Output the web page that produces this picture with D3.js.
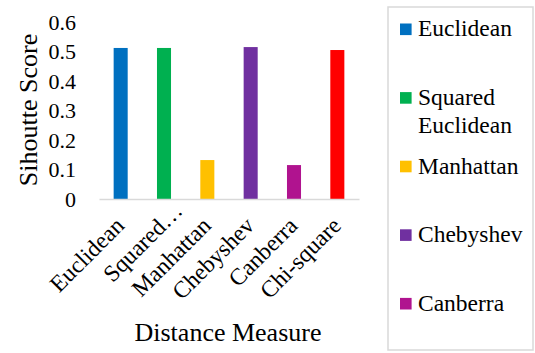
<!DOCTYPE html>
<html>
<head>
<meta charset="utf-8">
<script src="https://cdn.jsdelivr.net/npm/d3@7"></script>
<style>
  html, body { margin: 0; padding: 0; background: #fff; }
</style>
</head>
<body>
<svg id="chart" width="535" height="353" font-family="Liberation Serif"></svg>
<script>
// Silhouette score by distance measure
const categories = ["Euclidean", "Squared Euclidean", "Manhattan", "Chebyshev", "Canberra", "Chi-square"];
const axisLabels = ["Euclidean", "Squared…", "Manhattan", "Chebyshev", "Canberra", "Chi-square"];
const scores = [0.512, 0.512, 0.132, 0.515, 0.115, 0.505];
const colors = ["#0070C0", "#00B050", "#FFC000", "#7030A0", "#B0138F", "#FF0000"];
const yTicks = [0, 0.1, 0.2, 0.3, 0.4, 0.5, 0.6];
// legend shows the entries that fit inside its frame
const legendLines = [["Euclidean"], ["Squared", "Euclidean"], ["Manhattan"], ["Chebyshev"], ["Canberra"]];

const FONT = "Liberation Serif";
const svg = d3.select("#chart");
const tickFont = 22, catFont = 23.5, titleFont = 26, legendFont = 23.5;

const plot = { left: 99, right: 359, top: 22, bottom: 199 };

const x = d3.scaleBand().domain(categories).range([plot.left, plot.right]).paddingInner(0.676).paddingOuter(0.338);
const y = d3.scaleLinear().domain([0, 0.6]).range([plot.bottom, plot.top]);

// bars
svg.append("g").selectAll("rect").data(categories).join("rect")
  .attr("x", d => x(d))
  .attr("width", x.bandwidth())
  .attr("y", (d, i) => y(scores[i]))
  .attr("height", (d, i) => y(0) - y(scores[i]))
  .attr("fill", (d, i) => colors[i]);

// y axis
const yAxis = svg.append("g").attr("transform", `translate(${plot.left - 23},0)`)
  .call(d3.axisLeft(y).tickValues(yTicks).tickSize(0).tickPadding(0).tickFormat(d => d === 0 ? "0" : d3.format(".1f")(d)));
yAxis.attr("font-family", FONT).attr("font-size", tickFont);
yAxis.select(".domain").remove();
yAxis.selectAll("text").attr("font-family", FONT).attr("font-size", tickFont).attr("fill", "#000").attr("dy", "0.34em");

// x axis
const xAxis = svg.append("g").attr("transform", `translate(0,${plot.bottom})`)
  .call(d3.axisBottom(x).tickSize(0).tickFormat((d, i) => axisLabels[i]));
xAxis.attr("font-family", FONT).attr("font-size", catFont);
xAxis.select(".domain").attr("stroke", "#d9d9d9").attr("stroke-width", 1.5);
xAxis.selectAll("text")
  .attr("font-family", FONT).attr("font-size", catFont).attr("fill", "#000")
  .attr("text-anchor", "end")
  .attr("dy", null).attr("y", 0)
  // a truncated label keeps its ellipsis past the tick
  .attr("dx", (d, i) => axisLabels[i].endsWith("…") ? 21 : 0)
  .attr("transform", "translate(5,28) rotate(-45)");

// axis titles
svg.append("text")
  .attr("transform", "translate(37,110) rotate(-90)")
  .attr("text-anchor", "middle")
  .attr("font-family", FONT).attr("font-size", titleFont)
  .text("Sihoutte Score");

svg.append("text")
  .attr("x", 228).attr("y", 341)
  .attr("text-anchor", "middle")
  .attr("font-family", FONT).attr("font-size", titleFont)
  .text("Distance Measure");

// legend
const legendBox = { x: 388, y: 7, w: 145, h: 343 };
svg.append("rect")
  .attr("x", legendBox.x).attr("y", legendBox.y).attr("width", legendBox.w).attr("height", legendBox.h)
  .attr("fill", "none").attr("stroke", "#d9d9d9").attr("stroke-width", 1.5);

const ly = d3.scaleLinear().domain([0, 1]).range([29.3, 97.9]);
const items = svg.append("g")
  .selectAll("g").data(legendLines).join("g")
  .attr("transform", (d, i) => `translate(400,${ly(i)})`);
items.append("rect").attr("x", 0).attr("y", -5.8).attr("width", 11.6).attr("height", 11.6)
  .attr("fill", (d, i) => colors[i]);
items.append("text")
  .attr("x", 18).attr("y", 7)
  .attr("font-family", FONT).attr("font-size", legendFont)
  .selectAll("tspan").data(d => d).join("tspan")
  .attr("x", 18).attr("dy", (d, j) => j === 0 ? 0 : 28.5)
  .text(d => d);
</script>
</body>
</html>
